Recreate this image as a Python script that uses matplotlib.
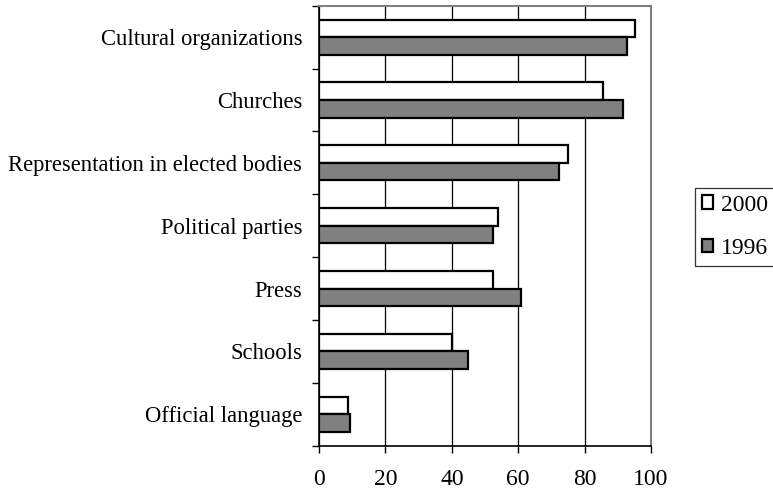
import numpy as np
import matplotlib.pyplot as plt

categories = ['Cultural organizations', 'Churches', 'Representation in elected bodies',
              'Political parties', 'Press', 'Schools', 'Official language']
values_2000 = [95.2, 85.6, 74.9, 53.8, 52.5, 40.0, 8.6]
values_1996 = [92.9, 91.7, 72.4, 52.5, 60.8, 44.8, 9.2]

plt.rcParams['font.family'] = ['Liberation Serif', 'DejaVu Serif']

fig = plt.figure(figsize=(7.73, 4.91), dpi=100)
ax = fig.add_axes([0.4127, 0.0922, 0.4295, 0.8962])

y = np.arange(len(categories))
h = 0.28
ax.barh(y - h / 2, values_2000, height=h, color='white', edgecolor='black',
        linewidth=1.6, label='2000', zorder=3)
ax.barh(y + h / 2, values_1996, height=h, color='#808080', edgecolor='black',
        linewidth=1.6, label='1996', zorder=3)

ax.set_xlim(0, 100)
ax.set_ylim(len(categories) - 0.5, -0.5)
ax.set_xticks([0, 20, 40, 60, 80, 100])
ax.xaxis.grid(True, color='black', linewidth=0.9, zorder=0)

# category labels centred, tick marks on the boundaries
ax.set_yticks(y)
ax.set_yticklabels(categories, fontsize=16.3)
ax.tick_params(axis='y', which='major', length=0, pad=12)
ax.set_yticks(np.arange(len(categories) + 1) - 0.5, minor=True)
ax.tick_params(axis='y', which='minor', length=5, width=1, direction='out')
ax.tick_params(axis='x', length=5, width=1, direction='out', labelsize=17, pad=12)

for s in ['left', 'bottom']:
    ax.spines[s].set_color('black')
    ax.spines[s].set_linewidth(1.2)
for s in ['top', 'right']:
    ax.spines[s].set_color('#808080')
    ax.spines[s].set_linewidth(1.5)

leg = fig.legend(loc='upper left', bbox_to_anchor=(695 / 773, 1 - 188 / 491),
                 fontsize=17, frameon=True, fancybox=False, edgecolor='black',
                 handlelength=0.5, handleheight=0.5, handletextpad=0.3,
                 borderpad=0.28, labelspacing=0.95, borderaxespad=0)
leg.get_frame().set_linewidth(0.9)

fig.savefig('out.png', dpi=100)
